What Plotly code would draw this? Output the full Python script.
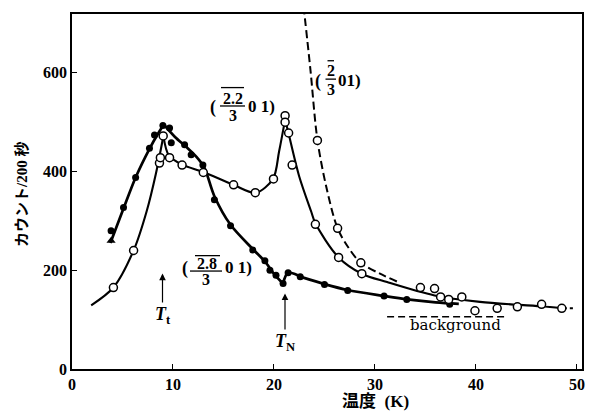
import plotly.graph_objects as go

# ---------------- data ----------------
# (2.8/3 0 1) reflection: filled circles
FILLED_X = [3.87, 5.1, 6.3, 7.67, 8.17, 9.0, 9.66, 9.83, 11.15, 11.8, 12.96, 14.1,
            15.7, 17.9, 19.1, 19.6, 20.2, 20.9, 21.4, 22.6, 25.0, 27.3, 30.9, 33.15, 37.4]
FILLED_Y = [280, 327, 388, 447, 474, 493, 488, 458, 454, 434, 413, 343,
            290, 241, 219, 200, 190, 173, 195, 187, 171, 159, 148, 141, 131]
TRI_X = [3.87]
TRI_Y = [260]

# (2.2/3 0 1) reflection: open circles
OPEN_X = [4.1, 6.1, 8.66, 8.75, 9.03, 9.66, 10.9, 13.0, 16.0, 18.15, 19.95, 21.1,
          21.1, 21.45, 21.8, 24.1, 26.4, 28.7, 34.5, 35.9, 36.5, 37.3, 38.6, 39.9,
          42.1, 44.1, 46.5, 48.5]
OPEN_Y = [165, 240, 417, 428, 472, 428, 413, 398, 373, 357, 385, 513,
          500, 478, 413, 293, 226, 193, 165, 163, 146, 141, 146, 118,
          123, 126, 131, 123]

# (2/3 0 1) reflection: open circles on dashed curve
DASH_PTS_X = [24.3, 26.3, 28.6]
DASH_PTS_Y = [463, 285, 215]

# hand-drawn guide curves (None separates cusped segments)
FILLED_CURVE_X = [3.8, 5.1, 6.3, 7.7, 8.5, 9.1, None,
                  9.1, 10.2, 11.3, 12.3, 13.1, 14.1, 15.7, 17.9, 19.1, 20.1, 20.9, None,
                  20.9, 21.4, 22.9, 25.0, 27.3, 30.9, 33.2, 36.0, 38.3]
FILLED_CURVE_Y = [255, 325, 388, 447, 476, 495, None,
                  495, 470, 450, 430, 408, 350, 292, 243, 218, 190, 173, None,
                  173, 195, 185, 172, 160, 148, 141, 135, 132]

OPEN_CURVE_X = [1.9, 4.1, 6.1, 7.4, 8.3, 9.05, None,
                9.05, 9.6, 10.9, 13.0, 16.0, 18.2, 19.9, 20.5, 21.1, None,
                21.1, 21.4, 22.5, 23.7, 24.1, 26.4, 28.7, 31.2, 35.9, 40.4, 46.4, 48.5]
OPEN_CURVE_Y = [129, 165, 240, 320, 395, 472, None,
                472, 432, 414, 399, 373, 357, 385, 440, 505, None,
                505, 481, 390, 318, 295, 226, 193, 176, 149, 136, 127, 123]
OPEN_TAIL_X = [48.5, 49.6]
OPEN_TAIL_Y = [123, 123]

DASH_CURVE_X = [22.93, 23.6, 24.3, 25.2, 26.3, 27.4, 28.6, 30.5, 32.3]
DASH_CURVE_Y = [735, 608, 464, 367, 285, 245, 215, 193, 176]

BG_X = [31.2, 43.1]
BG_Y = [106, 106]

X_TICKS = [0, 10, 20, 30, 40, 50]
Y_TICKS = [0, 200, 400, 600]

X_TITLE = "温度  (K)"
Y_TITLE = "カウント/200 秒"

# ---------------- layout constants ----------------
OFF = 8                      # page body margin of the browser
W, H = 594 - OFF, 414 - OFF
ML, MR, MT, MB = 72 - OFF, 12, 12 - OFF, 45
PW, PH = W - ML - MR, H - MT - MB

SERIF = "Liberation Serif, Noto Sans CJK JP"


def px(x):   # screenshot pixel -> paper x
    return (x - OFF - ML) / PW


def py(y):   # screenshot pixel -> paper y
    return (H - MB - (y - OFF)) / PH


fig = go.Figure()

fig.add_trace(go.Scatter(x=FILLED_CURVE_X, y=FILLED_CURVE_Y, mode="lines",
                         line=dict(color="black", width=2.7, shape="spline", smoothing=0.9),
                         connectgaps=False, hoverinfo="skip"))
fig.add_trace(go.Scatter(x=OPEN_CURVE_X, y=OPEN_CURVE_Y, mode="lines",
                         line=dict(color="black", width=2.1, shape="spline", smoothing=0.9),
                         connectgaps=False, hoverinfo="skip"))
fig.add_trace(go.Scatter(x=OPEN_TAIL_X, y=OPEN_TAIL_Y, mode="lines",
                         line=dict(color="black", width=2, dash="5px,3px"), hoverinfo="skip"))
fig.add_trace(go.Scatter(x=DASH_CURVE_X, y=DASH_CURVE_Y, mode="lines",
                         line=dict(color="black", width=2, dash="8px,4px", shape="spline", smoothing=0.9),
                         hoverinfo="skip"))
fig.add_trace(go.Scatter(x=BG_X, y=BG_Y, mode="lines",
                         line=dict(color="black", width=1.5, dash="7px,4px"), hoverinfo="skip"))

fig.add_trace(go.Scatter(x=FILLED_X, y=FILLED_Y, mode="markers",
                         marker=dict(color="black", size=7, line=dict(width=0))))
fig.add_trace(go.Scatter(x=TRI_X, y=TRI_Y, mode="markers",
                         marker=dict(color="black", size=8, symbol="triangle-up")))
fig.add_trace(go.Scatter(x=OPEN_X, y=OPEN_Y, mode="markers",
                         marker=dict(color="white", size=8, line=dict(color="black", width=1.5))))
fig.add_trace(go.Scatter(x=DASH_PTS_X, y=DASH_PTS_Y, mode="markers",
                         marker=dict(color="white", size=8, line=dict(color="black", width=1.5))))

ann = []
shapes = []


def text(xp, yp, s, size=16, family=SERIF, weight="bold", angle=0):
    ann.append(dict(x=px(xp), y=py(yp), xref="paper", yref="paper", text=s,
                    showarrow=False, xanchor="center", yanchor="middle", textangle=angle,
                    font=dict(family=family, size=size, color="black", weight=weight)))


def hline(x0, x1, yp, w=1.3):
    shapes.append(dict(type="line", xref="paper", yref="paper",
                       x0=px(x0), x1=px(x1), y0=py(yp), y1=py(yp),
                       line=dict(color="black", width=w)))


def arrow_label(xp, tip, label_y, s):
    # arrow from the label up to the tip; label sits at the arrow's tail
    ann.append(dict(x=px(xp), y=py(tip), xref="paper", yref="paper",
                    ax=0, ay=label_y - tip, text=s, showarrow=True,
                    font=dict(family=SERIF, size=18, color="black", weight="bold"),
                    arrowhead=2, arrowsize=1.1, arrowwidth=1.2, arrowcolor="black",
                    standoff=0, startstandoff=0))


# (2.2/3 0 1)
text(213, 106, "(", size=18)
text(232.5, 97, "2.2")
text(232.5, 114, "3")
text(261, 105, "0 1)", size=17)
hline(221, 244, 86)
hline(220, 245, 104.5)

# (2.8/3 0 1)
text(185, 267.5, "(", size=18)
text(207, 262.5, "2.8")
text(206, 279, "3")
text(238, 267, "0 1)", size=17)
hline(195, 220, 255)
hline(190, 222, 270.5)

# (2/3 0 1)
text(318, 80, "(", size=18)
text(330.7, 69, "2")
text(330.7, 87.5, "3")
text(349, 79, "01)", size=17)
hline(327.5, 334, 59)
hline(325.5, 336, 77.5)

# T_t and T_N
arrow_label(162.5, 273, 315, "<i>T</i><sub>t</sub>")
arrow_label(285, 293, 342, "<i>T</i><sub>N</sub>")

text(455, 325, "background", size=15, family="DejaVu Serif", weight="normal")

text(375, 401.5, X_TITLE, size=17)
text(22, 194, Y_TITLE, size=15, angle=-90)

fig.update_layout(
    width=W, height=H,
    margin=dict(l=ML, r=MR, t=MT, b=MB),
    paper_bgcolor="white", plot_bgcolor="white",
    showlegend=False,
    annotations=ann, shapes=shapes,
    xaxis=dict(range=[0, 50.5], tickvals=X_TICKS, ticks="inside", ticklen=5,
               tickwidth=1.3, tickcolor="black", showgrid=False, zeroline=False,
               showline=True, linecolor="black", linewidth=1.8, mirror=True,
               tickfont=dict(family=SERIF, size=16, color="black", weight="bold")),
    yaxis=dict(range=[0, 719], tickvals=Y_TICKS, ticks="inside", ticklen=5,
               tickwidth=1.3, tickcolor="black", showgrid=False, zeroline=False,
               showline=True, linecolor="black", linewidth=1.8, mirror=True,
               tickfont=dict(family=SERIF, size=16, color="black", weight="bold")),
)

fig.write_html("out.html")
